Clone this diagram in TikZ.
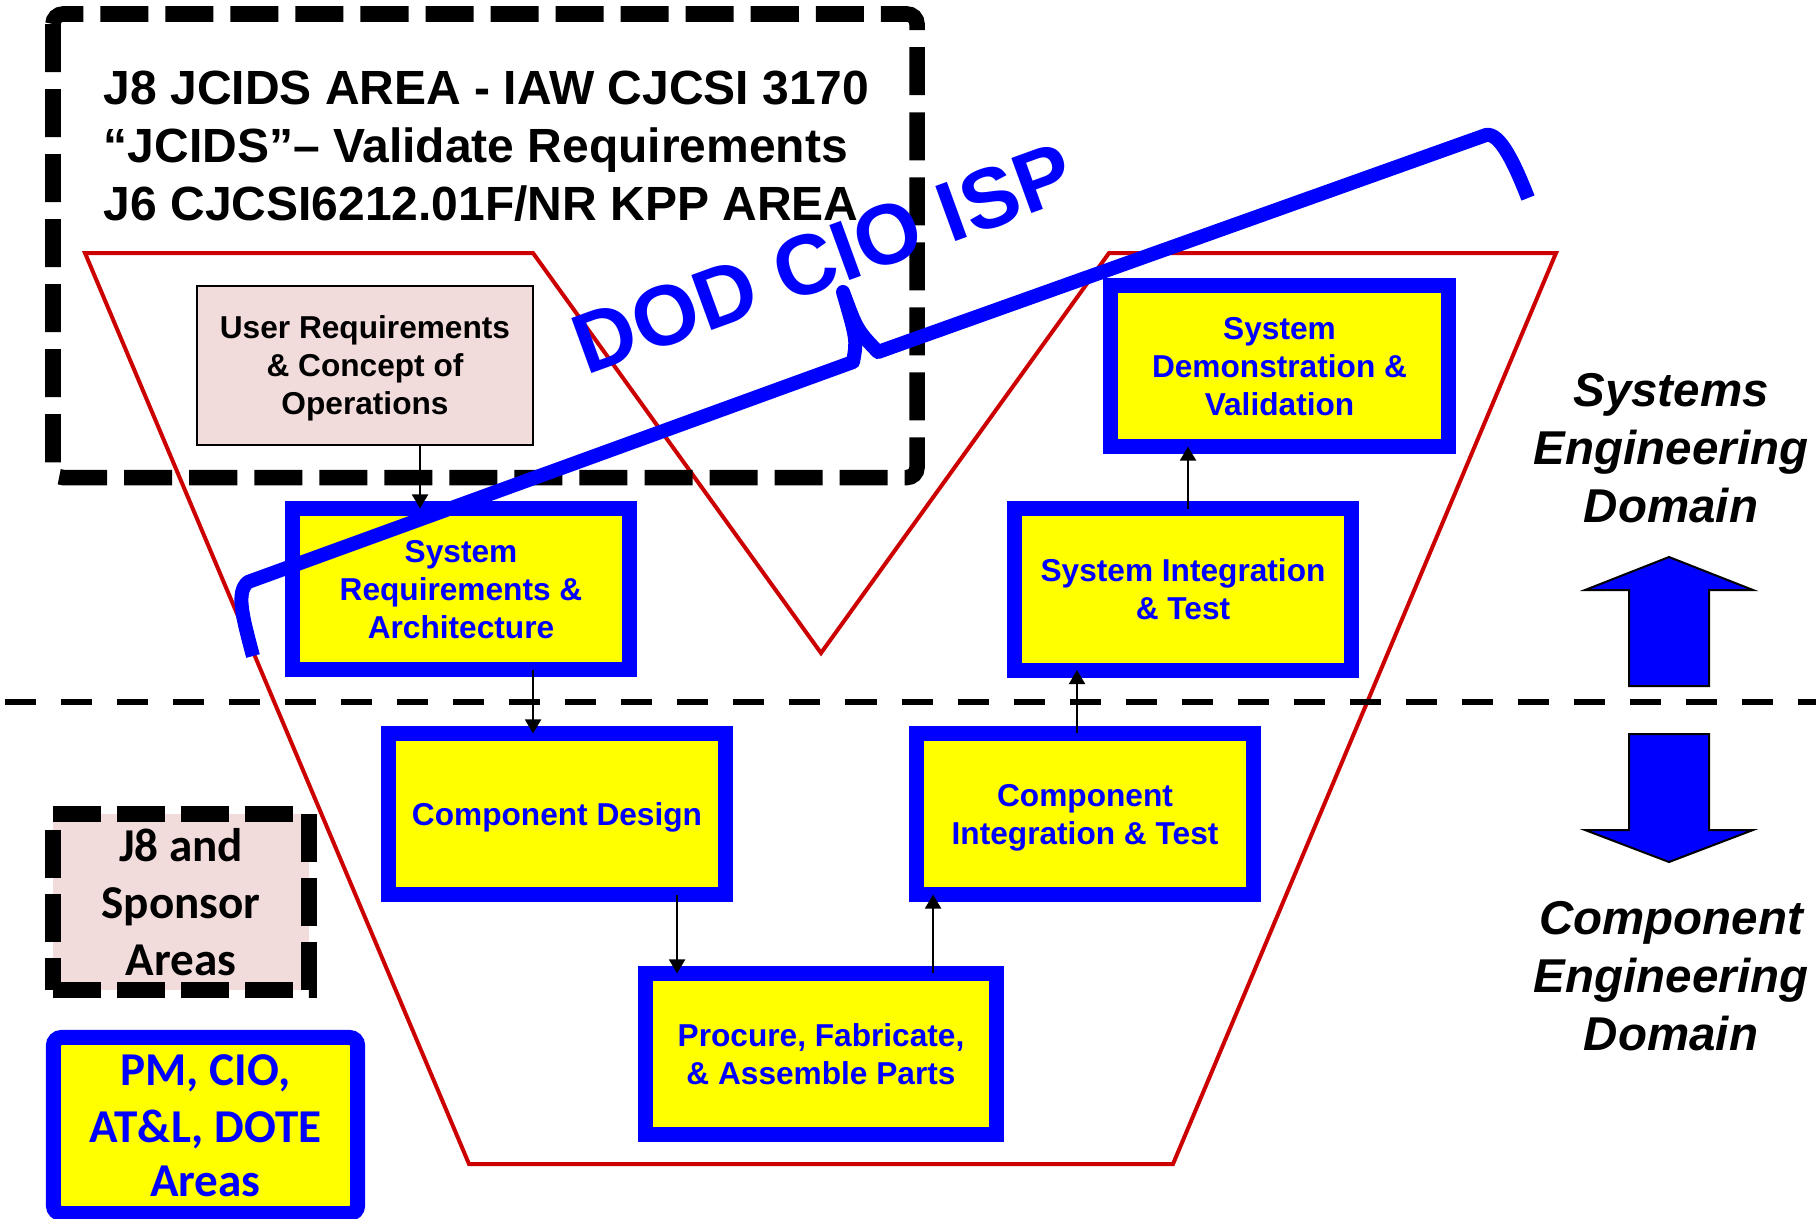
\documentclass[tikz,border=0pt]{standalone}
\usepackage{fontspec}
\setmainfont{Liberation Sans}
\newfontfamily\calibrifont{Carlito}
\usepackage{tikz}
\usetikzlibrary{arrows.meta,calc}
\definecolor{vred}{HTML}{CC0000}
\definecolor{ispblue}{HTML}{0000FF}
\definecolor{boxyellow}{HTML}{FFFF00}
\definecolor{rosefill}{HTML}{F2DCDB}
\tikzset{
  vline/.style={
    draw=vred, line width=0.04cm, line join=miter
  },
  areabox/.style={
    draw=black, line width=0.155cm, rounded corners=0.1cm,
    dash pattern=on 0.48cm off 0.17cm
  },
  userbox/.style={
    rectangle, draw=black, fill=rosefill, line width=0.02cm,
    minimum width=3.36cm, minimum height=1.59cm, inner sep=0pt,
    text depth=0pt, align=center, font=\fontsize{9}{10.8}\selectfont\bfseries
  },
  stepbox/.style={
    rectangle, draw=ispblue, fill=boxyellow, line width=0.15cm,
    minimum width=3.37cm, minimum height=1.61cm, outer sep=0pt,
    inner sep=0pt, text depth=0pt, align=center, text=ispblue,
    font=\fontsize{9}{10.8}\selectfont\bfseries
  },
  sponsorbox/.style={
    rectangle, draw=black, fill=rosefill, line width=0.16cm,
    dash pattern=on 0.48cm off 0.16cm,
    minimum width=2.56cm, minimum height=1.76cm, inner sep=0pt,
    align=center, font=\calibrifont\fontsize{13.4}{16.2}\selectfont\bfseries
  },
  ownerbox/.style={
    rectangle, draw=ispblue, fill=boxyellow, line width=0.15cm,
    rounded corners=0.08cm, minimum width=3.04cm, minimum height=1.76cm,
    inner sep=0pt, align=center, text=ispblue,
    font=\calibrifont\fontsize{13.4}{16.2}\selectfont\bfseries
  },
  flowarrow/.style={
    -{Triangle[length=0.14cm,width=0.16cm]}, line width=0.02cm
  },
  splitline/.style={
    draw=black, line width=0.06cm, dash pattern=on 0.31cm off 0.25cm
  },
  blockarrow/.style={
    fill=ispblue, draw=black, line width=0.02cm, line join=miter
  },
  domainlabel/.style={
    align=center, inner sep=0pt,
    font=\fontsize{13.5}{16.5}\selectfont\bfseries\itshape
  },
  ispbrace/.style={
    draw=ispblue, line width=0.14cm, line join=round, line cap=butt
  },
}
\begin{document}
\begin{tikzpicture}[x=0.01cm, y=-0.01cm]
  \useasboundingbox (0,0) rectangle (1816,1218);

  % V outline
  \draw[vline] (85,253) -- (533,253) -- (821,653) -- (1109,253)
    -- (1556,253) -- (1173,1164) -- (469,1164) -- cycle;

  % J8 / J6 area
  \draw[areabox] (53,14) rectangle (917,477.5);
  \node[anchor=north west, inner sep=0pt, align=left,
        font=\fontsize{13.65}{16.5}\selectfont\bfseries] (jcids) at (103,70)
    {J8 JCIDS AREA - IAW CJCSI 3170\\
     “JCIDS”– Validate Requirements\\
     J6 CJCSI6212.01F/NR KPP AREA};

  \node[userbox] (ur) at (365,365.5) {User Requirements\\\& Concept of\\Operations};

  \node[stepbox] (sra) at (461,589) {System\\Requirements \&\\Architecture};
  \node[stepbox] (cd)  at (557,814) {Component Design};
  \node[stepbox, minimum width=3.51cm] (pfa) at (821,1054) {Procure, Fabricate,\\\& Assemble Parts};
  \node[stepbox] (ci)  at (1085,814) {Component\\Integration \& Test};
  \node[stepbox] (si)  at (1183,589.5) {System Integration\\\& Test};
  \node[stepbox] (sd)  at (1279.5,366) {System\\Demonstration \&\\Validation};

  \draw[flowarrow] ([xshift=0.55cm]ur.south) -- ([xshift=0.55cm]ur.south |- sra.north);
  \draw[flowarrow] ([xshift=0.72cm]sra.south) -- ([xshift=0.72cm]sra.south |- cd.north);
  \draw[flowarrow] ([xshift=1.2cm]cd.south) -- ([xshift=1.2cm]cd.south |- pfa.north);
  \draw[flowarrow] ([xshift=1.12cm]pfa.north) -- ([xshift=1.12cm]pfa.north |- ci.south);
  \draw[flowarrow] ([xshift=-0.08cm]ci.north) -- ([xshift=-0.08cm]ci.north |- si.south);
  \draw[flowarrow] ([xshift=0.05cm]si.north) -- ([xshift=0.05cm]si.north |- sd.south);

  \draw[splitline] (5,702) -- (1816,702);

  \node[sponsorbox] (sponsor) at (181,902) {J8 and\\Sponsor\\Areas};
  \node[ownerbox] (owners) at (205.5,1125.5) {PM, CIO,\\AT\&L, DOTE\\[-1pt]Areas};

  % domain arrows
  \draw[blockarrow] (1629,686) -- (1629,590) -- (1585,590) -- (1669,557)
    -- (1753,590) -- (1709,590) -- (1709,686) -- cycle;
  \draw[blockarrow] (1629,734) -- (1709,734) -- (1709,830) -- (1753,830)
    -- (1669,862) -- (1585,830) -- (1629,830) -- cycle;
  \node[domainlabel, anchor=north] (sysdom) at (1671,373) {Systems\\Engineering\\Domain};
  \node[domainlabel, anchor=north] (compdom) at (1671,901) {Component\\Engineering\\Domain};

  % DOD CIO ISP brace
  \draw[ispbrace] (253,656) .. controls (242,615) and (236,592) .. (248,582)
    -- (853,362) .. controls (857,340) .. (843,292)
    .. controls (857,330) .. (878,352) -- (1486,135)
    .. controls (1500,132) and (1515,165) .. (1528,198);
  \node[anchor=base west, rotate=20, inner sep=0pt, text=ispblue,
        font=\fontsize{24.2}{29}\selectfont\bfseries] (isp) at (586,376) {DOD CIO ISP};
\end{tikzpicture}
\end{document}
